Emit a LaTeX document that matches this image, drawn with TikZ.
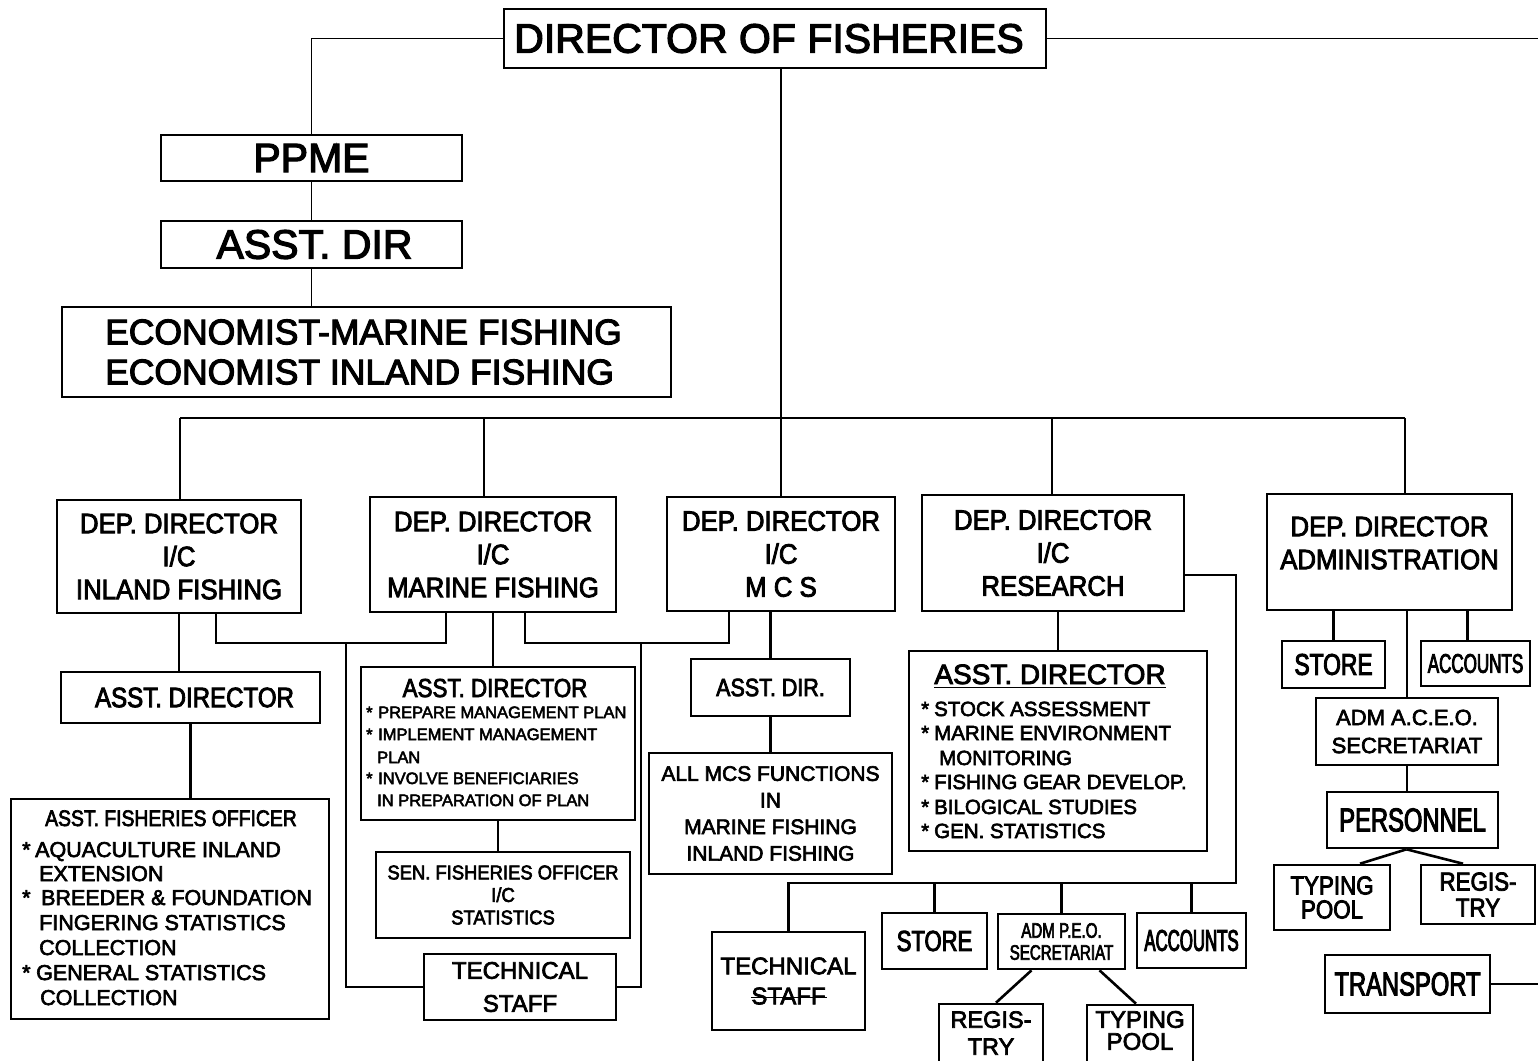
\documentclass[tikz,border=0pt]{standalone}
\usepackage{fontspec}
\setmainfont{Liberation Sans}[FakeBold=3]
\newfontfamily\ffA{Liberation Sans}[FakeBold=3]
\newfontfamily\ffB{Liberation Sans}[FakeStretch=0.92,FakeBold=3]
\newfontfamily\ffC{Liberation Sans}[FakeStretch=0.86,FakeBold=3]
\newfontfamily\ffD{Liberation Sans}[FakeStretch=0.76,FakeBold=3]
\newfontfamily\ffE{Liberation Sans}[FakeStretch=0.72,FakeBold=3]
\newfontfamily\ffF{Liberation Sans}[FakeStretch=0.63,FakeBold=3]
\newfontfamily\ffG{Liberation Sans}[FakeStretch=0.56,FakeBold=3]
\usetikzlibrary{fit}
\newcommand\fs[3]{#1\fontsize{#2}{#3}\selectfont}

\begin{document}
\begin{tikzpicture}[x=1pt,y=-1pt,
  bx/.style={draw, line width=2.6pt, inner sep=0pt},
  ln/.style={line width=2.6pt},
  lnthin/.style={line width=1.8pt},
  t/.style={inner sep=0pt, align=center},
  tl/.style={inner sep=0pt, anchor=base west},
  tc/.style={inner sep=0pt, anchor=base}]
\useasboundingbox (0,0) rectangle (1538,1060);
\fill[white] (0,0) rectangle (1538,1060);
\clip (0,0) rectangle (1538,1060);

% ---------- top of the chart ----------
\node[bx, line width=2.8pt, fit={(504,9)(1046,68)}] (dir) {};
\node[t, font={\fs\ffA{41}{41}}, xshift=-6pt] (dirT) at (dir) {DIRECTOR OF FISHERIES};
\node[bx, fit={(161,135)(462,181)}] (ppme) {};
\node[t, font={\fs\ffA{41}{41}}] (ppmeT) at (ppme) {PPME};
\node[bx, fit={(161,221)(462,268)}] (ad) {};
\node[t, font={\fs\ffA{41}{41}}, xshift=3pt] (adT) at (ad) {ASST. DIR};
\node[bx, fit={(62,307)(671,397)}] (econ) {};
\node[t, align=left, font={\fs\ffA{35.5}{40}}, xshift=-3pt] (econT) at (econ) {ECONOMIST-MARINE FISHING\\ECONOMIST INLAND FISHING};

\draw[lnthin] (dir.west) -| (ppme.north);
\draw[lnthin] (ppme.south) -- (ad.north);
\draw[lnthin] (ad.south) -- (ad.south |- econ.north);
\coordinate (rEdgeA) at (1540,38.5);
\draw[lnthin] (dir.east) -- (rEdgeA);

% ---------- deputy directors ----------
\node[bx, fit={(57,500)(301,613)}] (ddIn) {};
\node[t, font={\fs\ffB{28}{33}}] (ddInT) at (ddIn) {DEP. DIRECTOR\\I/C\\INLAND FISHING};
\node[bx, fit={(370,497)(616,612)}] (ddMa) {};
\node[t, font={\fs\ffB{28}{33}}] (ddMaT) at (ddMa) {DEP. DIRECTOR\\I/C\\MARINE FISHING};
\node[bx, fit={(667,497)(895,611)}] (ddMc) {};
\node[t, font={\fs\ffB{28}{33}}] (ddMcT) at (ddMc) {DEP. DIRECTOR\\I/C\\M C S};
\node[bx, fit={(922,495)(1184,611)}] (ddRe) {};
\node[t, font={\fs\ffB{28}{33}}] (ddReT) at (ddRe) {DEP. DIRECTOR\\I/C\\RESEARCH};
\node[bx, fit={(1267,494)(1512,610)}] (ddAd) {};
\node[t, font={\fs\ffB{28}{33}}, yshift=9pt] (ddAdT) at (ddAd) {DEP. DIRECTOR\\ADMINISTRATION};

\coordinate (hub) at (781,418);
\coordinate (barL) at (180,418);
\coordinate (barR) at (1405,418);
\coordinate (dMa) at (484,418);
\coordinate (dRe) at (1052,418);
\draw[lnthin] (hub |- dir.south) -- (hub) -- (hub |- ddMc.north);
\draw[ln] (barL) -- (barR);
\draw[lnthin] (barL) -- (barL |- ddIn.north);
\draw[lnthin] (dMa) -- (dMa |- ddMa.north);
\draw[lnthin] (dRe) -- (dRe |- ddRe.north);
\draw[lnthin] (barR) -- (barR |- ddAd.north);

% ---------- inland fishing ----------
\node[bx, fit={(61,672)(320,723)}] (adIn) {};
\node[t, font={\fs\ffC{28}{28}}, xshift=4pt] (adInT) at (adIn) {ASST. DIRECTOR};
\node[bx, fit={(11,799)(329,1019)}] (afo) {};
\node[tc, font={\fs\ffC{22.5}{22.5}}] (afo0) at (171,826) {ASST. FISHERIES OFFICER};
\begin{scope}[every node/.style={tl, font={\fs\ffA{21.5}{21.5}}}]
\node (afo1) at (22,857) {\makebox[13pt][l]{*}AQUACULTURE INLAND};
\node (afo2) at (39,881) {EXTENSION};
\node (afo3) at (22,905) {\makebox[19pt][l]{*}BREEDER \& FOUNDATION};
\node (afo4) at (39,930) {FINGERING STATISTICS};
\node (afo5) at (39,955) {COLLECTION};
\node (afo6) at (22,980) {\makebox[14pt][l]{*}GENERAL STATISTICS};
\node (afo7) at (40,1005) {COLLECTION};
\end{scope}
\draw[ln] (ddIn.south) -- (ddIn.south |- adIn.north);
\draw[ln] (adIn.south) -- (adIn.south |- afo.north);

% ---------- marine fishing ----------
\node[bx, fit={(361,667)(635,820)}] (adMa) {};
\node[tc, font={\fs\ffC{26}{26}}] (adMa0) at (495,697) {ASST. DIRECTOR};
\begin{scope}[every node/.style={tl, font={\fs\ffA{16.5}{16.5}}}]
\node (adMa1) at (366,718) {\makebox[12pt][l]{*}PREPARE MANAGEMENT PLAN};
\node (adMa2) at (366,740) {\makebox[12pt][l]{*}IMPLEMENT MANAGEMENT};
\node (adMa3) at (377,763) {PLAN};
\node (adMa4) at (366,784) {\makebox[12pt][l]{*}INVOLVE BENEFICIARIES};
\node (adMa5) at (377,806) {IN PREPARATION OF PLAN};
\end{scope}
\node[bx, fit={(376,852)(630,938)}] (sfo) {};
\node[t, font={\fs\ffB{20}{22.5}}] (sfoT) at (sfo) {SEN. FISHERIES OFFICER\\I/C\\STATISTICS};
\node[bx, fit={(424,954)(616,1020)}] (tsMa) {};
\node[t, font={\fs\ffA{24}{33}}] (tsMaT) at (tsMa) {TECHNICAL\\STAFF};

\draw[ln] (ddMa.south) -- (ddMa.south |- adMa.north);
\draw[ln] (adMa.south) -- (adMa.south |- sfo.north);
\coordinate (bkA) at (216,643);
\coordinate (bkB) at (446,643);
\coordinate (bkC) at (525,643);
\coordinate (bkD) at (729,643);
\draw[ln] (ddIn.south -| bkA) -- (bkA) -- (bkB) -- (ddMa.south -| bkB);
\draw[ln] (ddMa.south -| bkC) -- (bkC) -- (bkD) -- (ddMc.south -| bkD);
\coordinate (tsL) at (346,643);
\coordinate (tsR) at (641,643);
\draw[ln] (tsL) |- (tsMa.west);
\draw[ln] (tsR) |- (tsMa.east);

% ---------- MCS ----------
\node[bx, fit={(691,659)(850,716)}] (adMc) {};
\node[t, font={\fs\ffC{25}{25}}] (adMcT) at (adMc) {ASST. DIR.};
\node[bx, fit={(649,753)(892,874)}] (allMcs) {};
\node[t, font={\fs\ffA{21}{26.6}}] (allMcsT) at (allMcs) {ALL MCS FUNCTIONS\\IN\\MARINE FISHING\\INLAND FISHING};
\draw[ln] (adMc.north |- ddMc.south) -- (adMc.north);
\draw[ln] (adMc.south) -- (adMc.south |- allMcs.north);

% ---------- research ----------
\node[bx, fit={(909,651)(1207,851)}] (adRe) {};
\node[tc, font={\fs\ffA{28}{28}}] (adRe0) at (1050,684) {ASST. DIRECTOR};
\draw[line width=1.4pt] ([yshift=-3.5pt]adRe0.base west) -- ([yshift=-3.5pt]adRe0.base east);
\begin{scope}[every node/.style={tl, font={\fs\ffA{20.5}{20.5}}}]
\node (adRe1) at (921,716) {\makebox[13pt][l]{*}STOCK ASSESSMENT};
\node (adRe2) at (921,740) {\makebox[13pt][l]{*}MARINE ENVIRONMENT};
\node (adRe3) at (939,765) {MONITORING};
\node (adRe4) at (921,789) {\makebox[13pt][l]{*}FISHING GEAR DEVELOP.};
\node (adRe5) at (921,814) {\makebox[13pt][l]{*}BILOGICAL STUDIES};
\node (adRe6) at (921,838) {\makebox[13pt][l]{*}GEN. STATISTICS};
\end{scope}
\draw[ln] (adRe.north |- ddRe.south) -- (adRe.north);

\node[bx, fit={(712,932)(865,1030)}] (tsMc) {};
\node[t, font={\fs\ffA{24}{30}}] (tsMcT) at (tsMc) {TECHNICAL\\\rlap{\rule[6pt]{76pt}{1.6pt}}STAFF};
\node[bx, fit={(882,913)(987,969)}] (stRe) {};
\node[t, font={\fs\ffD{29}{29}}] (stReT) at (stRe) {STORE};
\node[bx, fit={(998,914)(1125,969)}] (peo) {};
\node[t, font={\fs\ffE{21}{22}}] (peoT) at (peo) {ADM P.E.O.\\SECRETARIAT};
\node[bx, fit={(1137,913)(1246,968)}] (acRe) {};
\node[t, font={\fs\ffG{30}{30}}] (acReT) at (acRe) {ACCOUNTS};
\node[bx, fit={(939,1004)(1043,1062)}] (rgRe) {};
\node[t, font={\fs\ffA{23.5}{27}}] (rgReT) at (rgRe) {REGIS-\\TRY};
\node[bx, fit={(1087,1005)(1193,1062)}] (tpRe) {};
\node[t, font={\fs\ffA{24}{22}}, yshift=3pt] (tpReT) at (tpRe) {TYPING\\POOL};

\coordinate (rbA) at (1236,575);
\coordinate (rbB) at (1236,883);
\draw[ln] (ddRe.east |- rbA) -- (rbA) -- (rbB) -- (tsMc.north |- rbB) -- (tsMc.north);
\draw[ln] (stRe.north |- rbB) -- (stRe.north);
\draw[ln] (peo.north |- rbB) -- (peo.north);
\draw[ln] (acRe.north |- rbB) -- (acRe.north);
\draw[ln] ([xshift=-30pt]peo.south) -- ([xshift=5pt]rgRe.north);
\draw[ln] ([xshift=38pt]peo.south) -- ([xshift=-4pt]tpRe.north);

% ---------- administration ----------
\node[bx, fit={(1282,641)(1385,688)}] (stAd) {};
\node[t, font={\fs\ffD{30}{30}}] (stAdT) at (stAd) {STORE};
\node[bx, fit={(1421,641)(1530,686)}] (acAd) {};
\node[t, font={\fs\ffF{27}{27}}] (acAdT) at (acAd) {ACCOUNTS};
\node[bx, fit={(1316,698)(1498,765)}] (aceo) {};
\node[t, font={\fs\ffA{22}{28}}] (aceoT) at (aceo) {ADM A.C.E.O.\\SECRETARIAT};
\node[bx, fit={(1327,792)(1498,848)}] (pers) {};
\node[t, font={\fs\ffE{33}{33}}] (persT) at (pers) {PERSONNEL};
\node[bx, fit={(1274,865)(1390,930)}] (tpAd) {};
\node[t, font={\fs\ffC{26}{24}}] (tpAdT) at (tpAd) {TYPING\\POOL};
\node[bx, fit={(1421,865)(1535,924)}] (rgAd) {};
\node[t, font={\fs\ffC{26}{26}}] (rgAdT) at (rgAd) {REGIS-\\TRY};
\node[bx, fit={(1325,955)(1490,1013)}] (trAd) {};
\node[t, font={\fs\ffE{33}{33}}] (trAdT) at (trAd) {TRANSPORT};

\draw[ln] (stAd.north |- ddAd.south) -- (stAd.north);
\draw[ln] ([xshift=-8pt]acAd.north |- ddAd.south) -- ([xshift=-8pt]acAd.north);
\draw[ln] (aceo.north |- ddAd.south) -- (aceo.north);
\draw[ln] (aceo.south) -- (aceo.south |- pers.north);
\draw[ln] ([xshift=-6pt]pers.south) -- ([xshift=28pt]tpAd.north);
\draw[ln] ([xshift=-6pt]pers.south) -- ([xshift=-15pt]rgAd.north);
\coordinate (rEdgeB) at (1540,984);
\draw[ln] (trAd.east) -- (trAd.east -| rEdgeB);
\end{tikzpicture}
\end{document}
